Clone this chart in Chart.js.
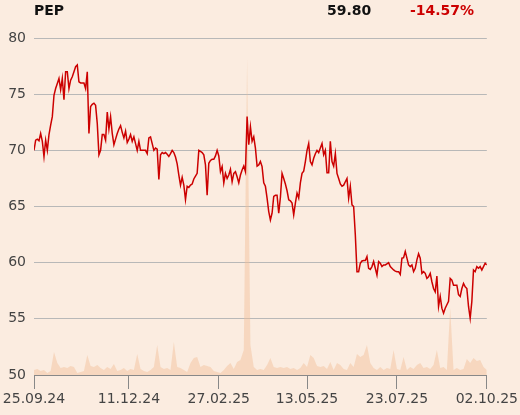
<!DOCTYPE html>
<html>
<head>
<meta charset="utf-8">
<script src="https://cdn.jsdelivr.net/npm/chart.js@4.4.1/dist/chart.umd.min.js"></script>
<style>
  html, body { margin: 0; padding: 0; background: #fbece0; }
  #wrap { position: relative; width: 520px; height: 415px; }
  .hdr { position: absolute; top: 3px; font: bold 14px "DejaVu Sans", sans-serif; line-height: 14px; color: #111; white-space: nowrap; }
  #chg { color: #cc0000; }
</style>
</head>
<body>
<div id="wrap">
  <canvas id="chart" width="520" height="415"></canvas>
  <div class="hdr" style="left:34px">PEP</div>
  <div class="hdr" style="left:327px">59.80</div>
  <div class="hdr" id="chg" style="left:410px">-14.57%</div>
</div>
<script>
/* ================== DATA ================== */
const closes = [
  70.0, 70.9, 71.0, 70.85, 71.5, 70.8, 69.45, 70.9, 70.0, 71.4,
  72.25, 73.0, 74.9, 75.5, 75.95, 76.4, 75.4, 76.4, 74.5, 77.0,
  77.0, 75.5, 76.25, 76.55, 77.0, 77.45, 77.6, 76.1, 76.0, 76.0,
  76.0, 75.5, 77.0, 71.5, 73.9, 74.1, 74.2, 74.0, 72.4, 69.6,
  70.0, 71.4, 71.4, 70.9, 73.4, 71.9, 73.0, 71.5, 70.5, 71.0,
  71.5, 71.9, 72.2, 71.6, 71.1, 71.7, 70.7, 71.0, 71.4, 70.8,
  71.2, 70.6, 70.0, 70.8, 70.0, 70.0, 70.0, 70.0, 69.7, 71.1,
  71.2, 70.6, 70.0, 70.2, 70.1, 67.4, 69.6, 69.8, 69.7, 69.8,
  69.65, 69.45, 69.7, 70.0, 69.8, 69.4, 68.8, 67.8, 66.9, 67.6,
  66.9, 65.6, 66.8, 66.7, 66.9, 67.0, 67.45, 67.7, 67.95, 70.0,
  69.9, 69.8, 69.6, 68.7, 66.0, 68.85, 69.1, 69.2, 69.2, 69.5,
  70.0, 69.5, 68.1, 68.55, 67.1, 67.95, 67.5, 67.8, 68.3, 67.2,
  67.95, 68.1, 67.65, 67.1, 67.8, 68.25, 68.6, 68.1, 73.0, 70.5,
  72.1, 70.8, 71.2, 70.2, 68.6, 68.7, 69.0, 68.55, 67.1, 66.8,
  65.75, 64.55, 63.8, 64.4, 65.9, 66.0, 66.0, 64.4, 65.8, 67.95,
  67.5, 67.0, 66.4, 65.6, 65.5, 65.3, 64.25, 65.3, 66.2, 65.75,
  67.1, 67.95, 68.15, 69.0, 70.0, 70.6, 69.0, 68.7, 69.3, 69.7,
  70.0, 69.8, 70.2, 70.6, 69.6, 70.0, 68.0, 68.0, 70.8, 69.0,
  68.6, 69.7, 67.95, 67.5, 67.0, 66.8, 66.9, 67.2, 67.5, 65.75,
  66.8, 65.15, 65.0, 62.5, 59.2, 59.2, 59.95, 60.15, 60.2, 60.2,
  60.55, 59.5, 59.4, 59.65, 60.1, 59.5, 58.9, 60.1, 59.95, 59.65,
  59.8, 59.8, 59.9, 60.0, 59.65, 59.5, 59.35, 59.25, 59.2, 59.2,
  58.95, 60.4, 60.45, 61.0, 60.4, 59.8, 59.65, 59.8, 59.2, 59.5,
  60.25, 60.8, 60.4, 59.05, 59.2, 59.05, 58.6, 58.75, 59.05, 58.3,
  57.7, 57.4, 58.8, 56.1, 57.0, 55.95, 55.5, 55.95, 56.25, 56.55,
  58.6, 58.45, 58.0, 58.0, 58.0, 57.15, 57.0, 57.7, 58.15, 57.85,
  57.7, 56.1, 55.05, 56.55, 59.35, 59.2, 59.65, 59.5, 59.65, 59.35,
  59.65, 59.95, 59.8
];

// relative volume, one value per two sessions
const volume = [
  5, 6, 4, 5, 2, 4, 23, 12, 7, 8,
  7, 9, 8, 2, 3, 4, 20, 9, 8, 10,
  7, 5, 8, 6, 11, 4, 5, 7, 4, 6,
  5, 21, 6, 4, 3, 5, 8, 30, 8, 6,
  7, 5, 33, 8, 7, 5, 3, 12, 17, 18,
  8, 10, 9, 8, 4, 3, 2, 5, 9, 12,
  6, 13, 15, 25, 317, 30, 8, 5, 6, 5,
  10, 17, 8, 7, 8, 7, 8, 6, 7, 5,
  7, 12, 8, 20, 17, 9, 8, 9, 6, 13,
  5, 12, 10, 6, 5, 12, 8, 21, 18, 20,
  30, 12, 7, 5, 8, 5, 7, 6, 25, 6,
  5, 18, 5, 8, 6, 10, 12, 7, 8, 6,
  10, 25, 7, 8, 5, 67, 5, 7, 5, 6,
  16, 12, 17, 14, 15, 8, 5
];

const tickIdx = [0, 57, 111, 164, 218, 272];
const tickLabels = ["25.09.24", "11.12.24", "27.02.25", "13.05.25", "23.07.25", "02.10.25"];

/* ================== STYLE ================== */
const FONT = "'DejaVu Sans', sans-serif";
const LAST = closes.length - 1;
const volStep = LAST / (volume.length - 1);

const pricePts = closes.map((v, i) => ({ x: i, y: v }));
const volPts = volume.map((v, j) => ({ x: j * volStep, y: v }));

new Chart(document.getElementById("chart"), {
  type: "line",
  data: {
    datasets: [
      {
        data: pricePts,
        yAxisID: "y",
        borderColor: "#cc0000",
        borderWidth: 1.5,
        pointRadius: 0,
        tension: 0,
        fill: false,
        order: 1,
      },
      {
        data: volPts,
        yAxisID: "vol",
        borderWidth: 0,
        borderColor: "rgba(0,0,0,0)",
        backgroundColor: "rgba(242,190,150,0.45)",
        pointRadius: 0,
        tension: 0,
        fill: "origin",
        order: 2,
      },
    ],
  },
  options: {
    responsive: false,
    animation: false,
    layout: { padding: { top: 38, right: 33, left: 0, bottom: 0 } },
    plugins: { legend: { display: false }, tooltip: { enabled: false } },
    scales: {
      x: {
        type: "linear",
        min: 0,
        max: LAST,
        afterBuildTicks: (s) => { s.ticks = tickIdx.map((v) => ({ value: v })); },
        afterFit: (s) => { s.height = 40; },
        ticks: {
          autoSkip: false,
          maxRotation: 0,
          padding: 2,
          color: "#444",
          font: { family: FONT, size: 14 },
          callback: (v) => tickLabels[tickIdx.indexOf(v)] ?? "",
        },
        grid: { drawOnChartArea: false, drawTicks: true, tickLength: 14, color: "#888" },
        border: { display: true, color: "#888", width: 1 },
      },
      y: {
        position: "left",
        min: 50,
        max: 80,
        afterFit: (s) => { s.width = 34; },
        ticks: {
          stepSize: 5,
          padding: 8,
          color: "#444",
          font: { family: FONT, size: 14 },
        },
        grid: { color: "#b8b8b8", drawTicks: false, lineWidth: 1 },
        border: { display: false },
      },
      vol: {
        display: false,
        min: 0,
        max: 337,
      },
    },
  },
});
</script>
</body>
</html>
